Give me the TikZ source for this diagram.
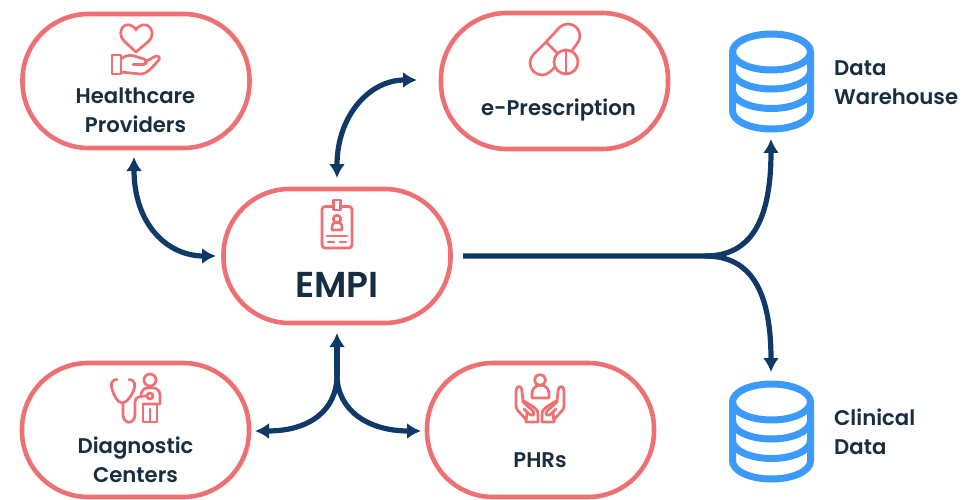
\documentclass[tikz,border=0pt]{standalone}
\usepackage{fontspec}
\setmainfont{Poppins SemiBold}
\usetikzlibrary{arrows.meta}
\definecolor{pink}{HTML}{EF7072}
\definecolor{navy}{HTML}{0F3A68}
\definecolor{ink}{HTML}{172D40}
\definecolor{dbblue}{HTML}{3C9AFB}
\tikzset{
  pill/.style={draw=pink,line width=4.6pt,rectangle,rounded corners=66pt,minimum width=227pt,minimum height=134pt,inner sep=0pt,fill=white},
  txt/.style={text=ink,anchor=base,inner sep=0pt,font=\fontsize{21.2pt}{22pt}\selectfont},
  ltxt/.style={txt,anchor=base west},
  conn/.style={draw=navy,line width=5.2pt},
  arr/.style={-{Latex[length=14pt,width=16pt]}},
  arrb/.style={{Latex[length=14pt,width=16pt]}-{Latex[length=14pt,width=16pt]}},
  icon/.style={draw=pink,line width=2.7pt,line cap=round,line join=round},
  dbs/.style={draw=dbblue,line width=7pt,line cap=round,line join=round},
  dbox/.style={inner sep=0pt,minimum width=85pt,minimum height=100pt},
}
\newcommand{\dbdraw}[1]{%
  \begin{scope}[yshift=-#1pt]
    \draw[dbs] (771.5,52) ellipse [x radius=39pt,y radius=18pt];
    \draw[dbs] (732.5,52) -- (732.5,111) arc [start angle=180,end angle=360,x radius=39pt,y radius=18pt] -- (810.5,52);
    \draw[dbs] (732.5,71) arc [start angle=180,end angle=360,x radius=39pt,y radius=18pt];
    \draw[dbs] (732.5,90.5) arc [start angle=180,end angle=360,x radius=39pt,y radius=18pt];
  \end{scope}}
\begin{document}
\begin{tikzpicture}[x=1pt,y=-1pt]
\useasboundingbox (0,0) rectangle (961,500);
\fill[white] (0,0) rectangle (961,500);
% pills
\node[pill] (hp) at (136,81) {};
\node[pill,minimum height=136pt] (ep) at (554.5,81) {};
\node[pill] (em) at (337,256) {};
\node[pill] (dc) at (135.5,430) {};
\node[pill] (ph) at (540.5,430) {};
% databases
\node[dbox] (dw) at (771.5,81) {};
\node[dbox] (cd) at (771.5,431) {};
\dbdraw{0}
\dbdraw{350}
% labels
\node[txt] (t1) at (135.5,104) {Healthcare};
\node[txt] (t2) at (135.5,133) {Providers};
\node[txt] (t3) at (558.5,116) {e-Prescription};
\node[txt,font=\fontsize{36pt}{37pt}\selectfont] (t4) at (337,297) {EMPI};
\node[txt] (t5) at (135.5,453) {Diagnostic};
\node[txt] (t6) at (135.5,482) {Centers};
\node[txt] (t7) at (540,467) {PHRs};
\node[ltxt] (t8) at (834,75.5) {Data};
\node[ltxt] (t9) at (834,104.5) {Warehouse};
\node[ltxt] (t10) at (834,425) {Clinical};
\node[ltxt] (t11) at (834,454) {Data};
% connectors
\coordinate (hpend) at (134,157);
\coordinate (emL) at (216,256);
\coordinate (epL) at (417,80);
\coordinate (emT) at (337,178);
\coordinate (emR) at (463,256);
\coordinate (junc) at (705,256);
\coordinate (dwB) at (771,139);
\coordinate (cdT) at (771,372);
\coordinate (emB) at (337,333);
\coordinate (dcR) at (255,431);
\coordinate (phL) at (421,431);
\coordinate (fork) at (337,375);
\draw[conn,arrb] (hpend) .. controls (134,225) and (168,256) .. (emL);
\draw[conn,arrb] (emT) .. controls (337,115) and (370,80) .. (epL);
\draw[conn,arr] (emR) -- (junc) .. controls (745,256) and (771,230) .. (dwB);
\draw[conn,arr] (junc) .. controls (745,256) and (771,282) .. (cdT);
\draw[conn,arr] (fork) -- (emB);
\draw[conn,arr] (fork) .. controls (337,410) and (310,431) .. (dcR);
\draw[conn,arr] (fork) .. controls (337,410) and (368,431) .. (phL);
% heart + hand
\draw[icon] (136,52) -- (124,41) .. controls (116,32) and (124,21) .. (132,26) .. controls (134,27) and (135,28) .. (136,30) .. controls (137,28) and (138,27) .. (140,26) .. controls (148,21) and (157,32) .. (149,41) -- cycle;
\draw[icon] (112,55) rectangle (121,74);
\draw[icon] (121,59) .. controls (126,55) and (130,55) .. (134,56) -- (144,59) .. controls (147,60) and (147,64) .. (144,64.5) -- (133,64.5);
\draw[icon] (145,62) -- (155,56.5) .. controls (159,55) and (161,58) .. (158,61) .. controls (152,67) and (148,74) .. (140,74) -- (121,72);
% pills icon
\draw[icon] (546,42) -- (559.5,27.5) arc [start angle=135,end angle=-45,radius=12pt] -- (564,62);
\draw[icon] (546,42) -- (533.5,54.5) arc [start angle=135,end angle=315,radius=12pt] -- (566,56);
\draw[icon] (546,42) -- (557,53);
\draw[icon,fill=white] (566,62) circle [radius=12pt];
\draw[icon] (566,50) -- (566,74);
% badge
\draw[icon,rounded corners=3pt] (322,206.5) rectangle (352,248);
\draw[icon,fill=white] (333.5,200) rectangle (340.5,210);
\draw[icon] (337,219) circle [radius=3.8pt];
\draw[icon] (332,230) -- (332,227.5) .. controls (332,220) and (342,220) .. (342,227.5) -- (342,230) -- cycle;
\draw[icon] (327,236) -- (347,236);
\draw[icon] (328,242) -- (334,242);
\draw[icon] (340,242) -- (346,242);
% doctor
\draw[icon] (117,379.5) .. controls (110,380) and (111,386) .. (112,389) .. controls (114,396) and (118,403) .. (122,403) .. controls (126,403) and (132,396) .. (134,389) .. controls (135,386) and (136,380) .. (129,379.5);
\draw[icon] (123,404) -- (123,414) .. controls (123,425) and (135,425) .. (135,414) -- (135,402) .. controls (135,397) and (140,396) .. (146,396);
\draw[icon] (150,380) circle [radius=6pt];
\draw[icon] (143,404) -- (143,422) -- (150,422) -- (150,409);
\draw[icon] (150,422) -- (157,422) -- (157,404);
\draw[icon] (143,404) -- (160,404) -- (160,395) .. controls (160,390) and (156,388) .. (153,388) -- (147,388) .. controls (145,388) and (142,390) .. (141,394);
\draw[icon,fill=white] (150,396) circle [radius=3pt];
% hands and person
\draw[icon] (540,380) circle [radius=5.5pt];
\draw[icon] (532,398) -- (532,394) .. controls (532,382) and (549,382) .. (549,394) -- (549,398) -- cycle;
\draw[icon] (516,407) -- (516,391) .. controls (516,385) and (522,385) .. (522,391) -- (523,402) -- (533,411) .. controls (536,414) and (532,417) .. (529,414) -- (524,409);
\draw[icon] (516,407) .. controls (517,411) and (521,413) .. (526,420);
\draw[icon] (526,422) -- (527,412);
\draw[icon] (526,422) -- (538,422) -- (538,415) .. controls (538,410) and (536,409) .. (532,406) -- (524,401);
\draw[icon] (564,407) -- (564,391) .. controls (564,385) and (558,385) .. (558,391) -- (557,402) -- (547,411) .. controls (544,414) and (548,417) .. (551,414) -- (556,409);
\draw[icon] (564,407) .. controls (563,411) and (559,413) .. (554,420);
\draw[icon] (554,422) -- (553,412);
\draw[icon] (554,422) -- (542,422) -- (542,415) .. controls (542,410) and (544,409) .. (548,406) -- (556,401);
\end{tikzpicture}
\end{document}
